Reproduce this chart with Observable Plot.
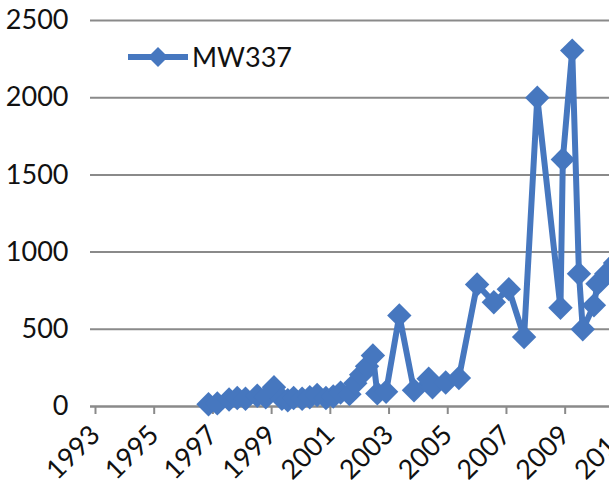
<!DOCTYPE html>
<html>
<head>
<meta charset="utf-8">
<script src="https://cdn.jsdelivr.net/npm/d3@7"></script>
<script src="https://cdn.jsdelivr.net/npm/@observablehq/plot@0.6"></script>
<style>
  html, body { margin: 0; padding: 0; background: #fff; overflow: hidden; }
  #wrap { position: relative; width: 609px; height: 491px; }
  #legend { position: absolute; left: 126px; top: 40px; display: flex; align-items: center;
            font-family: Lato, "Open Sans", sans-serif; font-size: 27px; color: #111; }
</style>
</head>
<body>
<div id="wrap">
  <div id="legend">
    <svg width="64" height="22"><line x1="2" y1="11" x2="62" y2="11" stroke="#4677BF" stroke-width="6"/><path d="M32,1 L42,11 L32,21 L22,11 Z" fill="#4677BF"/></svg>
    <span style="margin-left:2px">MW337</span>
  </div>
</div>
<script>
const seriesName = "MW337";
const years = [1996.85, 1997.15, 1997.55, 1997.83, 1998.11, 1998.51, 1998.8, 1999.08, 1999.35, 1999.55,
  1999.75, 2000.04, 2000.3, 2000.55, 2000.85, 2001.1, 2001.35, 2001.65, 2001.85, 2002.05,
  2002.25, 2002.45, 2002.6, 2002.9, 2003.35, 2003.85, 2004.35, 2004.48, 2004.93, 2005.38,
  2006.0, 2006.57, 2007.08, 2007.6, 2008.05, 2008.84, 2008.92, 2009.24, 2009.47, 2009.6,
  2009.98, 2010.1, 2010.4, 2010.7];
const values = [15, 20, 45, 55, 50, 70, 60, 125, 50, 40,
  55, 50, 60, 75, 55, 65, 90, 80, 150, 205,
  260, 330, 85, 95, 590, 105, 180, 125, 155, 185,
  790, 675, 760, 450, 2000, 640, 1600, 2305, 860, 500,
  655, 795, 860, 930];
const xTicks = [1993, 1995, 1997, 1999, 2001, 2003, 2005, 2007, 2009, 2011];
const yTicks = [0, 500, 1000, 1500, 2000, 2500];

const data = years.map((y, i) => ({year: y, value: values[i]}));
const blue = "#4677BF";

const chart = Plot.plot({
  width: 609,
  height: 491,
  marginLeft: 90,
  marginRight: 0,
  marginTop: 20,
  marginBottom: 85,
  style: {fontFamily: "Lato, 'Open Sans', sans-serif", fontSize: "27px", color: "#111", background: "#fff", overflow: "hidden"},
  x: {domain: [1992.83, 2010.51]},
  y: {domain: [0, 2500]},
  marks: [
    Plot.gridY(yTicks, {stroke: "#8a8a8a", strokeOpacity: 1, strokeWidth: 2}),
    Plot.axisY(yTicks, {tickSize: 0, tickPadding: 22, label: null, fill: "#111", tickFormat: d => String(d)}),
    Plot.axisX(xTicks, {tickSize: 8, stroke: "#8a8a8a", strokeWidth: 2, tickRotate: -45, tickPadding: 16,
      tickFormat: d => String(d), label: null, fill: "#111"}),
    Plot.ruleY([0], {stroke: "#8a8a8a", strokeWidth: 2}),
    Plot.line(data, {x: "year", y: "value", stroke: blue, strokeWidth: 6, strokeLinejoin: "round"}),
    Plot.dot(data, {x: "year", y: "value", symbol: "diamond2", r: 11, fill: blue, stroke: "none"})
  ]
});
document.getElementById("wrap").prepend(chart);
</script>
</body>
</html>
